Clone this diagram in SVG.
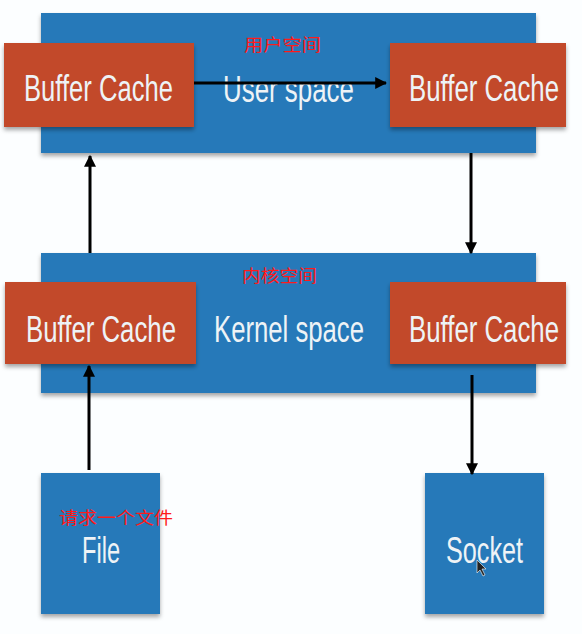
<svg xmlns="http://www.w3.org/2000/svg" width="582" height="634" viewBox="0 0 582 634">
<style>
.bg{fill:#fcfeff}
.blue{fill:#2779b9}
.red{fill:#c2492c}
.lbl{font-family:"Liberation Sans","Noto Sans",Arial,sans-serif;font-size:37px;fill:#eef3f6}
.cn{font-family:"Noto Sans CJK SC","Liberation Sans",sans-serif;font-size:17px;fill:#ff1a1a}
.conn{stroke:#000;stroke-width:3;fill:none}
</style>
<defs>
<filter id="sh" x="-10%" y="-10%" width="120%" height="130%">
<feDropShadow dx="0" dy="3" stdDeviation="2" flood-color="#000" flood-opacity="0.35"/>
</filter>
<marker id="ah" viewBox="0 0 10 10" refX="9" refY="5" markerWidth="4" markerHeight="4" orient="auto" markerUnits="strokeWidth">
<path d="M0,0 L10,5 L0,10 z" fill="#000"/>
</marker>
</defs>
<rect class="bg" x="0" y="0" width="582" height="634"/>

<g id="user-space">
<rect class="blue" x="41" y="13" width="495" height="140" filter="url(#sh)"/>
<text class="cn" x="244" y="51" textLength="77" lengthAdjust="spacingAndGlyphs">用户空间</text>
<text class="lbl" transform="translate(223,102) scale(0.645,1)" x="0" y="0" textLength="203" lengthAdjust="spacingAndGlyphs">User space</text>
</g>

<g id="kernel-space">
<rect class="blue" x="41" y="253" width="495" height="140" filter="url(#sh)"/>
<text class="cn" x="242" y="282" textLength="75" lengthAdjust="spacingAndGlyphs">内核空间</text>
<text class="lbl" transform="translate(214,342) scale(0.645,1)" x="0" y="0" textLength="232.6" lengthAdjust="spacingAndGlyphs">Kernel space</text>
</g>

<g id="user-buffer-left">
<rect class="red" x="4" y="43" width="190" height="84" filter="url(#sh)"/>
<text class="lbl" transform="translate(24,101) scale(0.645,1)" x="0" y="0" textLength="231" lengthAdjust="spacingAndGlyphs">Buffer Cache</text>
</g>
<g id="user-buffer-right">
<rect class="red" x="390" y="43" width="176" height="84" filter="url(#sh)"/>
<text class="lbl" transform="translate(409,101) scale(0.645,1)" x="0" y="0" textLength="232.6" lengthAdjust="spacingAndGlyphs">Buffer Cache</text>
</g>
<g id="kernel-buffer-left">
<rect class="red" x="5" y="282" width="191" height="82" filter="url(#sh)"/>
<text class="lbl" transform="translate(26,342) scale(0.645,1)" x="0" y="0" textLength="232.6" lengthAdjust="spacingAndGlyphs">Buffer Cache</text>
</g>
<g id="kernel-buffer-right">
<rect class="red" x="390" y="282" width="176" height="82" filter="url(#sh)"/>
<text class="lbl" transform="translate(409,342) scale(0.645,1)" x="0" y="0" textLength="232.6" lengthAdjust="spacingAndGlyphs">Buffer Cache</text>
</g>

<g id="file">
<rect class="blue" x="41" y="473" width="119" height="141" filter="url(#sh)"/>
<text class="lbl" transform="translate(82,563) scale(0.645,1)" x="0" y="0" textLength="59" lengthAdjust="spacingAndGlyphs">File</text>
<text class="cn" x="59" y="524" textLength="114" lengthAdjust="spacingAndGlyphs">请求一个文件</text>
</g>

<g id="socket">
<rect class="blue" x="425" y="473" width="119" height="141" filter="url(#sh)"/>
<text class="lbl" transform="translate(446,563) scale(0.645,1)" x="0" y="0" textLength="119.4" lengthAdjust="spacingAndGlyphs">Socket</text>
<path d="M477,560 L477,573 L480,570 L483,576 L485,575 L482,569 L486,569 Z" fill="#222" stroke="#fff" stroke-width="0.6"/>
</g>

<g id="connectors">
<line class="conn" x1="194" y1="83" x2="386" y2="83" marker-end="url(#ah)"/>
<line class="conn" x1="90" y1="253" x2="90" y2="156" marker-end="url(#ah)"/>
<line class="conn" x1="471" y1="153" x2="471" y2="253" marker-end="url(#ah)"/>
<line class="conn" x1="89" y1="470" x2="89" y2="366" marker-end="url(#ah)"/>
<line class="conn" x1="472" y1="375" x2="472" y2="474" marker-end="url(#ah)"/>
</g>
</svg>
